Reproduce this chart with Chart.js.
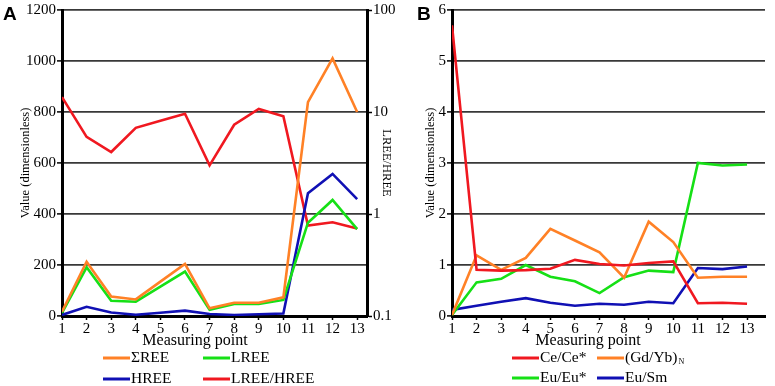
<!DOCTYPE html>
<html>
<head>
<meta charset="utf-8">
<title>REE measuring points</title>
<script src="https://cdn.jsdelivr.net/npm/chart.js@4.4.1/dist/chart.umd.min.js"></script>
<style>
  body { margin: 0; background: #fff; }
  #wrap { position: relative; width: 775px; height: 386px; overflow: hidden; }
  #wrap canvas { position: absolute; top: 0; }
  #chartA { left: 0; }
  #chartB { left: 390px; }
  .tag { position: absolute; top: 4px; font: bold 19px/19px "Liberation Sans", Arial, sans-serif; color: #000; }
</style>
</head>
<body>
<div id="wrap">
  <canvas id="chartA" width="400" height="386"></canvas>
  <canvas id="chartB" width="385" height="386"></canvas>
  <div class="tag" style="left:3px">A</div>
  <div class="tag" style="left:417px">B</div>
</div>
<script>
// measuring points 1..13
const points = [1, 2, 3, 4, 5, 6, 7, 8, 9, 10, 11, 12, 13];

// panel A
const sumREE   = [17, 213, 76, 65, 135, 204, 30, 52, 52, 73, 839, 1010, 800];
const lREE     = [12, 191, 60, 56, 115, 174, 24, 47, 47, 63, 366, 455, 341];
const hREE     = [4, 36, 14, 5, 13, 21, 8, 4, 7, 10, 481, 557, 458];
const lhRatio  = [14.0, 5.7, 4.05, 7.0, 8.2, 9.6, 3.0, 7.5, 10.7, 9.1, 0.77, 0.83, 0.72];
const leftTicksA  = [0, 200, 400, 600, 800, 1000, 1200];
const rightTicksA = [0.1, 1, 10, 100];

// panel B
const ceAnom   = [5.7, 0.905, 0.89, 0.9, 0.925, 1.1, 1.02, 0.99, 1.04, 1.07, 0.25, 0.26, 0.24];
const gdYb     = [0.02, 1.19, 0.905, 1.14, 1.71, 1.48, 1.25, 0.75, 1.85, 1.45, 0.75, 0.77, 0.77];
const euAnom   = [0.02, 0.66, 0.73, 1.0, 0.77, 0.68, 0.45, 0.76, 0.89, 0.86, 3.0, 2.95, 2.97];
const euSm     = [0.12, 0.2, 0.28, 0.35, 0.26, 0.2, 0.24, 0.22, 0.28, 0.25, 0.94, 0.92, 0.97];
const ticksB   = [0, 1, 2, 3, 4, 5, 6];

const ORANGE = "#ff8126";
const GREEN  = "#16e016";
const BLUE   = "#1010b4";
const RED    = "#f01820";

Chart.defaults.font.family = '"Liberation Serif", "Times New Roman", serif';
Chart.defaults.color = "#000";

const xy = (vals) => points.map((p, i) => ({ x: p, y: vals[i] }));

function series(label, vals, color, axis, sub) {
  return {
    label: label,
    sub: sub || "",
    data: xy(vals),
    yAxisID: axis || "y",
    borderColor: color,
    backgroundColor: color,
    borderWidth: 2.6,
    pointRadius: 0,
    tension: 0,
    fill: false
  };
}

// x title + two-column key under the plot
const lineKey = {
  id: "lineKey",
  afterDraw(chart, args, opts) {
    const ctx = chart.ctx;
    ctx.save();
    ctx.fillStyle = "#000";
    ctx.textBaseline = "middle";
    ctx.textAlign = "center";
    ctx.font = '16px "Liberation Serif", serif';
    ctx.fillText("Measuring point", opts.titleX, opts.titleY);

    ctx.textAlign = "left";
    chart.data.datasets.forEach((ds, i) => {
      const x = opts.cols[i % 2];
      const y = opts.rows[Math.floor(i / 2)];
      ctx.strokeStyle = ds.borderColor;
      ctx.lineWidth = 3;
      ctx.beginPath();
      ctx.moveTo(x, y);
      ctx.lineTo(x + 27, y);
      ctx.stroke();
      ctx.font = '15.5px "Liberation Serif", serif';
      ctx.fillText(ds.label, x + 28, y);
      if (ds.sub) {
        const w = ctx.measureText(ds.label).width;
        ctx.font = '8px "Liberation Serif", serif';
        ctx.fillText(ds.sub, x + 29 + w, y + 4);
      }
    });
    ctx.restore();
  }
};

function xScale(max) {
  return {
    type: "linear",
    min: 1,
    max: max,
    afterBuildTicks: (s) => { s.ticks = points.map(v => ({ value: v })); },
    afterFit: (s) => { s.height = 35; },
    grid: { drawOnChartArea: false, drawTicks: true, tickLength: 4, tickColor: "#000", tickWidth: 1.5 },
    border: { color: "#000", width: 3 },
    ticks: { font: { size: 15 }, padding: 0, maxRotation: 0, autoSkip: false, color: "#000" },
    title: { display: false }
  };
}

function yLeft(max, tickVals, titlePad) {
  return {
    position: "left",
    min: 0,
    max: max,
    afterBuildTicks: (s) => { s.ticks = tickVals.map(v => ({ value: v })); },
    afterFit: (s) => { s.width = 62; },
    grid: { color: "#383838", lineWidth: 1.8, drawTicks: true, tickLength: 5, tickColor: "#000", tickWidth: 1.5 },
    border: { color: "#000", width: 3 },
    ticks: { font: { size: 15 }, padding: 1, color: "#000", callback: (v) => String(v) },
    title: { display: true, text: "Value (dimensionless)", font: { size: 12.5 }, padding: { top: titlePad, bottom: 0 }, color: "#000" }
  };
}

new Chart(document.getElementById("chartA"), {
  type: "line",
  data: {
    datasets: [
      series("\u03A3REE", sumREE, ORANGE),
      series("LREE", lREE, GREEN),
      series("HREE", hREE, BLUE),
      series("LREE/HREE", lhRatio, RED, "y1")
    ]
  },
  options: {
    responsive: false,
    animation: false,
    layout: { padding: { top: 10, bottom: 35, left: 0, right: 0 } },
    plugins: {
      legend: { display: false },
      tooltip: { enabled: false },
      lineKey: { cols: [103, 203], rows: [358, 379], titleX: 195, titleY: 341 }
    },
    scales: {
      x: xScale(13.4),
      y: yLeft(1200, leftTicksA, 18.5),
      y1: {
        type: "logarithmic",
        position: "right",
        min: 0.1,
        max: 100,
        afterBuildTicks: (s) => { s.ticks = rightTicksA.map(v => ({ value: v })); },
        afterFit: (s) => { s.width = 33; },
        grid: { drawOnChartArea: false, drawTicks: true, tickLength: 5, tickColor: "#000", tickWidth: 1.5 },
        border: { color: "#000", width: 3 },
        ticks: { font: { size: 15 }, padding: 1, color: "#000", callback: (v) => String(v) },
        title: { display: true, text: "LREE/HREE", font: { size: 12.5 }, padding: { top: 6, bottom: 0 }, color: "#000" }
      }
    }
  },
  plugins: [lineKey]
});

new Chart(document.getElementById("chartB"), {
  type: "line",
  data: {
    datasets: [
      series("Ce/Ce*", ceAnom, RED),
      series("(Gd/Yb)", gdYb, ORANGE, "y", "N"),
      series("Eu/Eu*", euAnom, GREEN),
      series("Eu/Sm", euSm, BLUE)
    ]
  },
  options: {
    responsive: false,
    animation: false,
    layout: { padding: { top: 10, bottom: 35, left: 0, right: 10 } },
    plugins: {
      legend: { display: false },
      tooltip: { enabled: false },
      lineKey: { cols: [122, 207], rows: [358, 378], titleX: 198, titleY: 341 }
    },
    scales: {
      x: xScale(13.73),
      y: yLeft(6, ticksB, 33.5)
    }
  },
  plugins: [lineKey]
});
</script>
</body>
</html>
